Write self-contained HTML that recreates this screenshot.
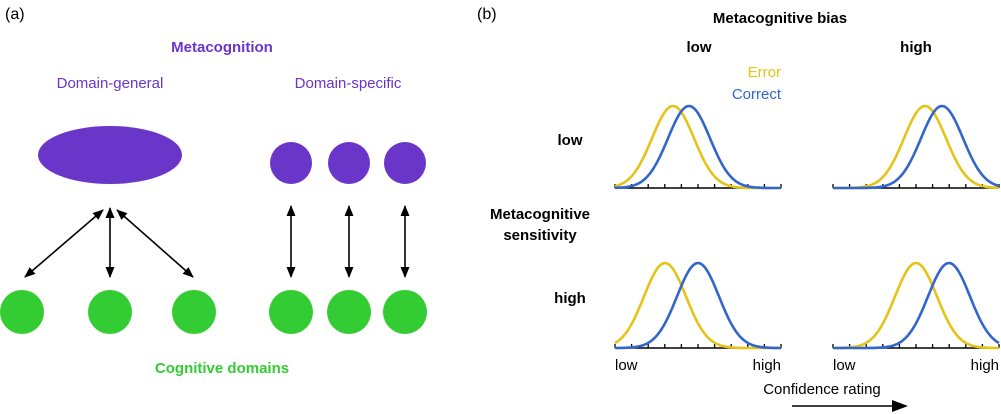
<!DOCTYPE html><html><head><style>body{margin:0;background:#fff}svg{display:block;font-family:"Liberation Sans",sans-serif}</style></head><body>
<svg id="s" width="1001" height="414" viewBox="0 0 1001 414">
<defs><marker id="a" markerWidth="12" markerHeight="12" refX="10" refY="6" orient="auto-start-reverse" markerUnits="userSpaceOnUse"><path d="M0,1.5 L11,6 L0,10.5 z" fill="#000"/></marker></defs>
<text x="5" y="19" font-size="16">(a)</text>
<text x="477" y="19" font-size="16">(b)</text>
<text x="222" y="52" font-size="15" font-weight="bold" fill="#6a35c9" text-anchor="middle">Metacognition</text>
<text x="110" y="88" font-size="15" fill="#6a35c9" text-anchor="middle">Domain-general</text>
<text x="348" y="88" font-size="15" fill="#6a35c9" text-anchor="middle">Domain-specific</text>
<ellipse cx="110" cy="155" rx="72" ry="29" fill="#6a35c9"/>
<g fill="#6a35c9"><circle cx="291" cy="163" r="21"/><circle cx="349" cy="163" r="21"/><circle cx="405" cy="163" r="21"/></g>
<g fill="#33cc33"><circle cx="22" cy="312" r="22"/><circle cx="110" cy="312" r="22"/><circle cx="194" cy="312" r="22"/><circle cx="291" cy="312" r="22"/><circle cx="349" cy="312" r="22"/><circle cx="405" cy="312" r="22"/></g>
<g stroke="#000" stroke-width="1.6" marker-start="url(#a)" marker-end="url(#a)">
<line x1="103" y1="210" x2="25" y2="277"/><line x1="110" y1="208" x2="110" y2="277"/><line x1="117" y1="210" x2="193" y2="277"/>
<line x1="291" y1="206" x2="291" y2="277"/><line x1="349" y1="206" x2="349" y2="277"/><line x1="405" y1="206" x2="405" y2="277"/></g>
<text x="222" y="373" font-size="15" font-weight="bold" fill="#33cc33" text-anchor="middle">Cognitive domains</text>
<text x="780" y="23" font-size="15" font-weight="bold" text-anchor="middle">Metacognitive bias</text>
<text x="699" y="52" font-size="15" font-weight="bold" text-anchor="middle">low</text>
<text x="916" y="52" font-size="15" font-weight="bold" text-anchor="middle">high</text>
<text x="570" y="145" font-size="15" font-weight="bold" text-anchor="middle">low</text>
<text x="540" y="219" font-size="15" font-weight="bold" text-anchor="middle">Metacognitive</text>
<text x="540" y="240" font-size="15" font-weight="bold" text-anchor="middle">sensitivity</text>
<text x="570" y="303" font-size="15" font-weight="bold" text-anchor="middle">high</text>
<text x="781" y="77" font-size="15" fill="#e5c317" text-anchor="end">Error</text>
<text x="781" y="99" font-size="15" fill="#3366cc" text-anchor="end">Correct</text>
<text x="615" y="370" font-size="15">low</text><text x="781" y="370" font-size="15" text-anchor="end">high</text>
<text x="833" y="370" font-size="15">low</text><text x="999" y="370" font-size="15" text-anchor="end">high</text>
<text x="822" y="394" font-size="15" text-anchor="middle">Confidence rating</text>
<line x1="792" y1="406" x2="896" y2="406" stroke="#000" stroke-width="1.6"/><path d="M892,400 L908,406 L892,412 z"/>
<g id="p"></g>
</svg>
<script>
var g=document.getElementById('p'),h='';
function curve(x0,base,mu,sig,hgt,col){var d='';for(var x=x0;x<=x0+166;x+=1){var y=base-hgt*Math.exp(-Math.pow((x-mu)/sig,2)/2);d+=(x==x0?'M':'L')+x+','+y.toFixed(1);}h+='<path d="'+d+'" fill="none" stroke="'+col+'" stroke-width="2.6"/>';}
function axis(x0,base){h+='<line x1="'+x0+'" y1="'+base+'" x2="'+(x0+166)+'" y2="'+base+'" stroke="#000" stroke-width="1.5"/>';for(var i=0;i<=10;i++){var x=x0+i*16.6;h+='<line x1="'+x+'" y1="'+(base-4)+'" x2="'+x+'" y2="'+base+'" stroke="#000" stroke-width="1.3"/>';}}
[[615,188,673,689,21,82],[833,188,925,942,21,82],[615,348,665,698,21,85],[833,348,916,949,21,85]].forEach(function(p){axis(p[0],p[1]);curve(p[0],p[1],p[2],p[4],p[5],'#e5c317');curve(p[0],p[1],p[3],p[4],p[5],'#3366cc');});
g.innerHTML=h;
</script>
</body></html>
